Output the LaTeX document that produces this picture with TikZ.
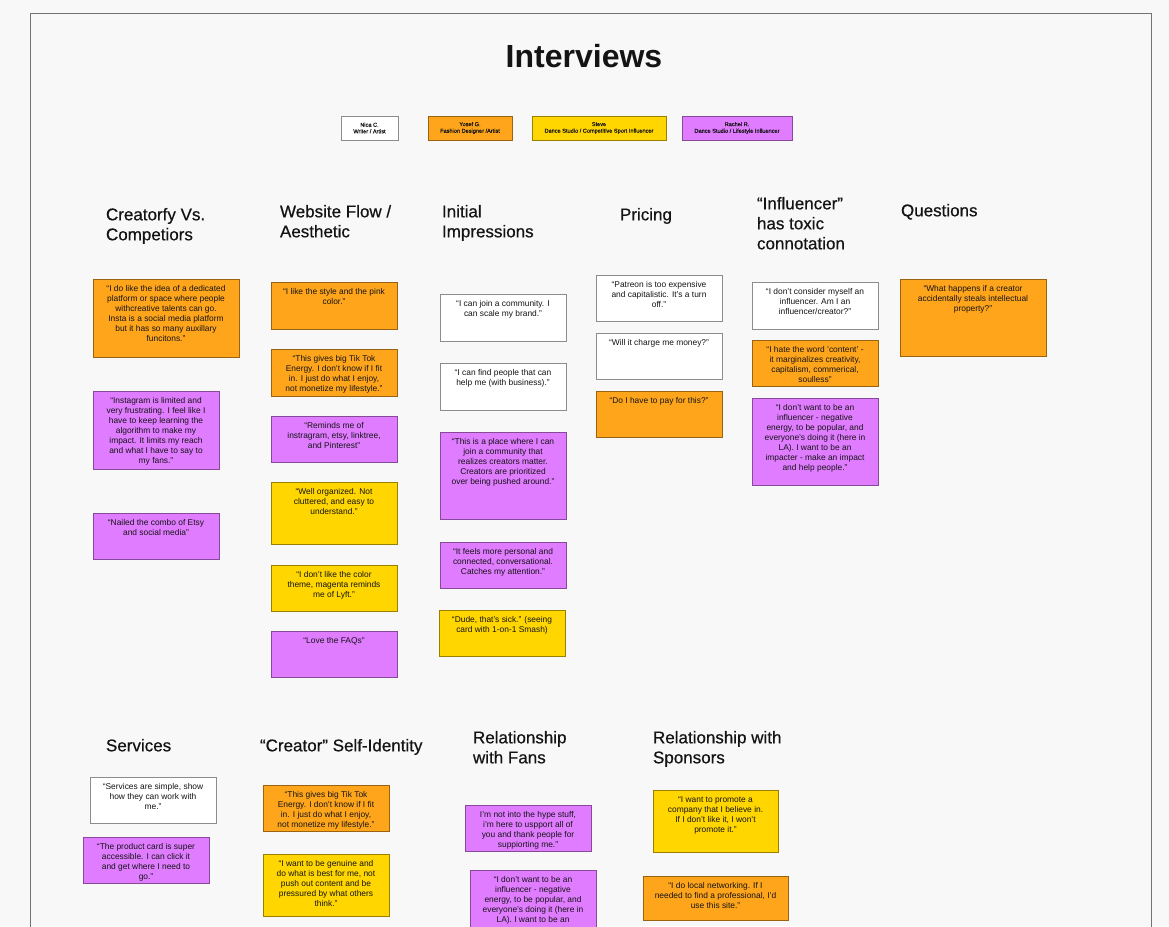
\documentclass[tikz,border=0pt]{standalone}
\usepackage{fontspec}
\setmainfont{Liberation Sans}
\newfontfamily\medfont[FakeBold=0.6]{Liberation Sans}
\newfontfamily\keyfont[FakeBold=0.2]{Liberation Sans}
\usepackage{tikz}
\usetikzlibrary{positioning}
\definecolor{orng}{HTML}{FFA51C}
\definecolor{yllw}{HTML}{FFD600}
\definecolor{prpl}{HTML}{E07CFF}
\definecolor{board}{HTML}{F8F8F8}
\definecolor{ink}{HTML}{141414}
\newcommand{\quotetext}[3]{\parbox[c][#2pt][t]{#1pt}{\centering\vspace{6.3pt}#3\par}}

\begin{document}
\begin{tikzpicture}[x=1pt,y=-1pt,
  every node/.style = {inner sep=0pt, outer sep=0pt, text=ink},
  sticky/.style = {draw=#1!60!black, fill=#1, line width=0.7pt, anchor=north west, font=\fontsize{8.4}{10}\selectfont},
  key/.style = {draw=#1!60!black, fill=#1, line width=0.7pt, anchor=north west, align=center, font=\keyfont\fontsize{5.6}{6.6}\selectfont},
  topic/.style = {anchor=north west, align=left, font=\medfont\fontsize{17}{20}\selectfont}]
\useasboundingbox (0,0) rectangle (1169,926);
\clip (0,0) rectangle (1169,926);
\fill[board] (0,0) rectangle (1169,926);
\draw[black!55, line width=0.8pt] (30,13) rectangle (1151,960);
\node[anchor=base, font=\bfseries\fontsize{32}{38}\selectfont] (title) at (584,67) {Interviews};
% who said it
\node[key=white, minimum width=57pt, minimum height=24pt, draw=black!45] (k;1) at (341,116) {Nica C.\\Writer / Artist};
\node[key=orng, minimum width=84pt, minimum height=24pt] (k;2) at (428,116) {Yosef G.\\Fashion Designer /Artist};
\node[key=yllw, minimum width=134pt, minimum height=24pt] (k;3) at (532,116) {Steve\\Dance Studio / Competitive Sport Influencer};
\node[key=prpl, minimum width=110pt, minimum height=24pt] (k;4) at (682,116) {Rachel R.\\Dance Studio / Lifestyle Influencer};
% topics
\node[topic] (t;1) at (106,208) {Creatorfy Vs.\\Competiors};
\node[topic] (t;2) at (280,205) {Website Flow /\\Aesthetic};
\node[topic] (t;3) at (442,205) {Initial\\Impressions};
\node[topic] (t;4) at (620,208) {Pricing};
\node[topic] (t;5) at (757,197) {“Influencer”\\has toxic\\connotation};
\node[topic] (t;6) at (901,204) {Questions};
\node[topic] (t;7) at (106,739) {Services};
\node[topic] (t;8) at (260,739) {“Creator” Self-Identity};
\node[topic] (t;9) at (473,731) {Relationship\\with Fans};
\node[topic] (t;10) at (653,731) {Relationship with\\Sponsors};
% Creatorfy vs. competitors
\node[sticky=orng] (1;1) at (93,279) {\quotetext{146}{78}{“I do like the idea of a dedicated\\platform or space where people\\withcreative talents can go.\\Insta is a social media platform\\but it has so many auxillary\\funcitons.”}};
\node[sticky=prpl] (1;2) at (93,391) {\quotetext{126}{78}{“Instagram is limited and\\very frustrating. I feel like I\\have to keep learning the\\algorithm to make my\\impact. It limits my reach\\and what I have to say to\\my fans.”}};
\node[sticky=prpl] (1;3) at (93,513) {\quotetext{126}{46}{“Nailed the combo of Etsy\\and social media”}};
% website flow
\node[sticky=orng] (2;1) at (271,282) {\quotetext{126}{47}{“I like the style and the pink\\color.”}};
\node[sticky=orng] (2;2) at (271,349) {\quotetext{126}{47}{“This gives big Tik Tok\\Energy. I don’t know if I fit\\in. I just do what I enjoy,\\not monetize my lifestyle.”}};
\node[sticky=prpl] (2;3) at (271,416) {\quotetext{126}{46}{“Reminds me of\\instragram, etsy, linktree,\\and Pinterest”}};
\node[sticky=yllw] (2;4) at (271,482) {\quotetext{126}{62}{“Well organized. Not\\cluttered, and easy to\\understand.”}};
\node[sticky=yllw] (2;5) at (271,565) {\quotetext{126}{46}{“I don’t like the color\\theme, magenta reminds\\me of Lyft.”}};
\node[sticky=prpl] (2;6) at (271,631) {\quotetext{126}{46}{“Love the FAQs”}};
% initial impressions
\node[sticky=white, draw=black!45] (3;1) at (440,294) {\quotetext{126}{47}{“I can join a community. I\\can scale my brand.”}};
\node[sticky=white, draw=black!45] (3;2) at (440,363) {\quotetext{126}{47}{“I can find people that can\\help me (with business).”}};
\node[sticky=prpl] (3;3) at (440,432) {\quotetext{126}{87}{“This is a place where I can\\join a community that\\realizes creators matter.\\Creators are prioritized\\over being pushed around.”}};
\node[sticky=prpl] (3;4) at (440,542) {\quotetext{126}{46}{“It feels more personal and\\connected, conversational.\\Catches my attention.”}};
\node[sticky=yllw] (3;5) at (439,610) {\quotetext{126}{46}{“Dude, that’s sick.” (seeing\\card with 1-on-1 Smash)}};
% pricing
\node[sticky=white, draw=black!45] (4;1) at (596,275) {\quotetext{126}{46}{“Patreon is too expensive\\and capitalistic. It’s a turn\\off.”}};
\node[sticky=white, draw=black!45] (4;2) at (596,333) {\quotetext{126}{46}{“Will it charge me money?”}};
\node[sticky=orng] (4;3) at (596,391) {\quotetext{126}{46}{“Do I have to pay for this?”}};
% influencer
\node[sticky=white, draw=black!45] (5;1) at (752,282) {\quotetext{126}{47}{“I don’t consider myself an\\influencer. Am I an\\influencer/creator?”}};
\node[sticky=orng] (5;2) at (752,340) {\quotetext{126}{46}{“I hate the word 'content' -\\it marginalizes creativity,\\capitalism, commerical,\\soulless”}};
\node[sticky=prpl] (5;3) at (752,398) {\quotetext{126}{87}{“I don’t want to be an\\influencer - negative\\energy, to be popular, and\\everyone’s doing it (here in\\LA). I want to be an\\impacter - make an impact\\and help people.”}};
% questions
\node[sticky=orng] (6;1) at (900,279) {\quotetext{146}{77}{“What happens if a creator\\accidentally steals intellectual\\property?”}};
% services
\node[sticky=white, draw=black!45] (7;1) at (90,777) {\quotetext{126}{46}{“Services are simple, show\\how they can work with\\me.”}};
\node[sticky=prpl] (7;2) at (83,837) {\quotetext{126}{46}{“The product card is super\\accessible. I can click it\\and get where I need to\\go.”}};
% creator self-identity
\node[sticky=orng] (8;1) at (263,785) {\quotetext{126}{46}{“This gives big Tik Tok\\Energy. I don’t know if I fit\\in. I just do what I enjoy,\\not monetize my lifestyle.”}};
\node[sticky=yllw] (8;2) at (263,854) {\quotetext{126}{62}{“I want to be genuine and\\do what is best for me, not\\push out content and be\\pressured by what others\\think.”}};
% fans
\node[sticky=prpl] (9;1) at (465,805) {\quotetext{126}{46}{I’m not into the hype stuff,\\i’m here to uspport all of\\you and thank people for\\suppiorting me.”}};
\node[sticky=prpl] (9;2) at (470,870) {\quotetext{126}{90}{“I don’t want to be an\\influencer - negative\\energy, to be popular, and\\everyone’s doing it (here in\\LA). I want to be an}};
% sponsors
\node[sticky=yllw] (10;1) at (653,790) {\quotetext{125}{62}{“I want to promote a\\company that I believe in.\\If I don’t like it, I won’t\\promote it.”}};
\node[sticky=orng] (10;2) at (643,876) {\quotetext{145}{44}{“I do local networking. If I\\needed to find a professional, I’d\\use this site.”}};
\end{tikzpicture}
\end{document}
